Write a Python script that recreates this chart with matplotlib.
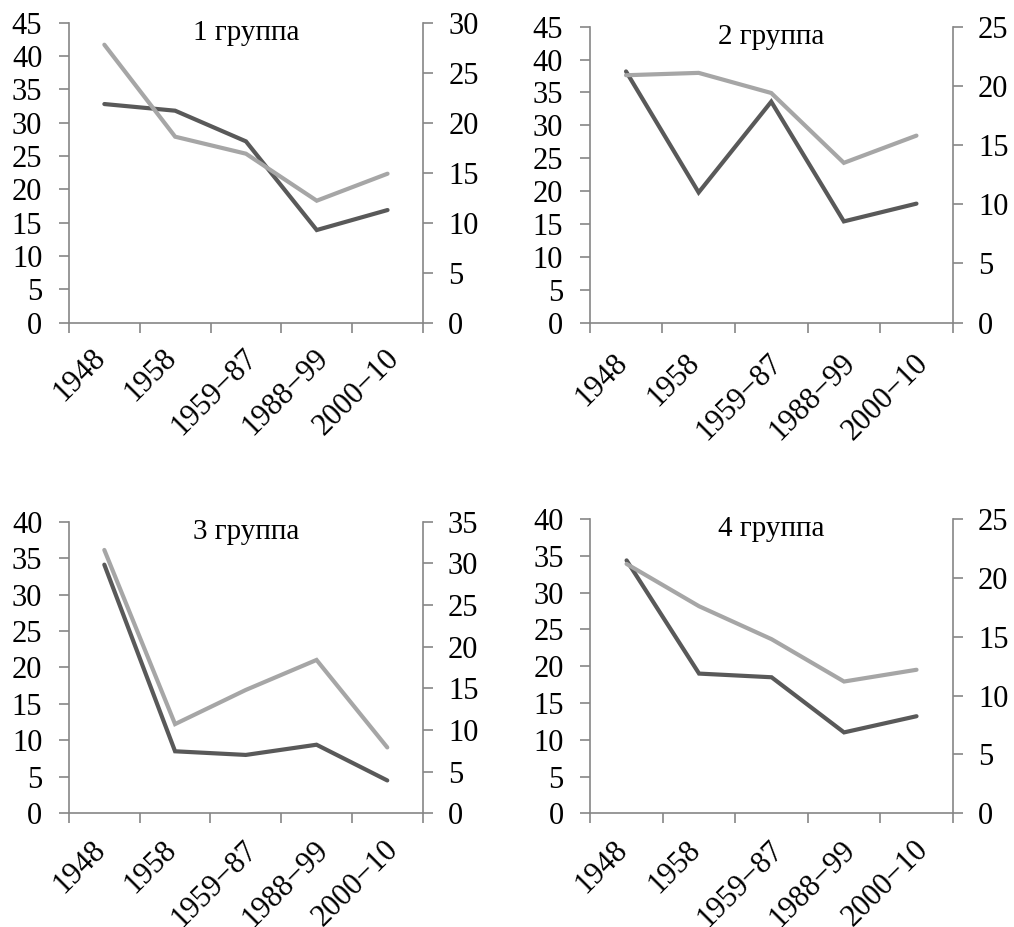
import matplotlib
matplotlib.use("Agg")
import matplotlib.pyplot as plt
import matplotlib.transforms as mtransforms

plt.rcParams['font.family'] = ['Liberation Serif', 'DejaVu Serif']

periods = ['1948', '1958', '1959−87', '1988−99', '2000−10']
titles = ['1 группа', '2 группа', '3 группа', '4 группа']

# left-axis series (dark line)
left_g1 = [32.8, 31.8, 27.2, 13.9, 16.9]
left_g2 = [38.2, 19.8, 33.6, 15.4, 18.1]
left_g3 = [34.1, 8.5, 8.0, 9.4, 4.5]
left_g4 = [34.4, 19.0, 18.5, 11.0, 13.2]

# right-axis series (light line)
right_g1 = [27.8, 18.6, 16.9, 12.2, 14.9]
right_g2 = [20.9, 21.1, 19.4, 13.5, 15.8]
right_g3 = [31.6, 10.7, 14.8, 18.4, 7.9]
right_g4 = [21.2, 17.6, 14.8, 11.2, 12.2]

left_max = [45, 45, 40, 40]
right_max = [30, 25, 35, 25]

left_series = [left_g1, left_g2, left_g3, left_g4]
right_series = [right_g1, right_g2, right_g3, right_g4]

DARK = '#595959'
LIGHT = '#a6a6a6'
AXIS = '#868686'
FS = 22
DPI = 100

fig = plt.figure(figsize=(10.14, 9.27), dpi=DPI)

boxes = [
    (0.0680, 0.6519, 0.3491, 0.3236),
    (0.5816, 0.6519, 0.3580, 0.3193),
    (0.0680, 0.1227, 0.3488, 0.3146),
    (0.5822, 0.1227, 0.3574, 0.3172),
]
label_gap = [21, 26, 22, 22]   # px between x axis and top of category labels

x = [i + 0.5 for i in range(len(periods))]

for k in range(4):
    ax = fig.add_axes(boxes[k])
    ax2 = ax.twinx()

    ax.plot(x, left_series[k], color=DARK, lw=3, solid_capstyle='round',
            solid_joinstyle='miter', zorder=3)
    ax2.plot(x, right_series[k], color=LIGHT, lw=3, solid_capstyle='round',
             solid_joinstyle='miter', zorder=3)

    ax.set_xlim(0, len(periods))
    ax.set_ylim(0, left_max[k])
    ax2.set_ylim(0, right_max[k])
    ax.set_yticks(range(0, left_max[k] + 1, 5))
    ax2.set_yticks(range(0, right_max[k] + 1, 5))

    for a in (ax, ax2):
        a.spines['top'].set_visible(False)
        for s in ('left', 'right', 'bottom'):
            a.spines[s].set_color(AXIS)
            a.spines[s].set_linewidth(1.2)
        a.tick_params(axis='y', colors=AXIS, labelcolor='black',
                      labelsize=FS, length=7.2, width=1.2, direction='out')
    ax.spines['right'].set_visible(False)
    ax2.spines['left'].set_visible(False)
    ax2.spines['bottom'].set_visible(False)
    ax.tick_params(axis='y', pad=12)
    ax2.tick_params(axis='y', pad=11)

    # tick marks at category boundaries
    ax.set_xticks(range(len(periods) + 1))
    ax.set_xticklabels([])
    ax.tick_params(axis='x', length=7.2, width=1.2, color=AXIS,
                   direction='out')

    # rotated category labels hanging below each category centre
    base = ax.get_xaxis_transform()
    for xi, lab in zip(x, periods):
        dx = 7 + (len(lab) - 4) * 3.4
        off = mtransforms.ScaledTranslation(dx / DPI, -label_gap[k] / DPI,
                                            fig.dpi_scale_trans)
        ax.text(xi, 0, lab, transform=base + off, rotation=45,
                ha='right', va='top', fontsize=FS, clip_on=False)

    ax.text(0.5, 0.966, titles[k], transform=ax.transAxes, ha='center',
            va='center', fontsize=21)

fig.savefig('out.png', dpi=DPI)
